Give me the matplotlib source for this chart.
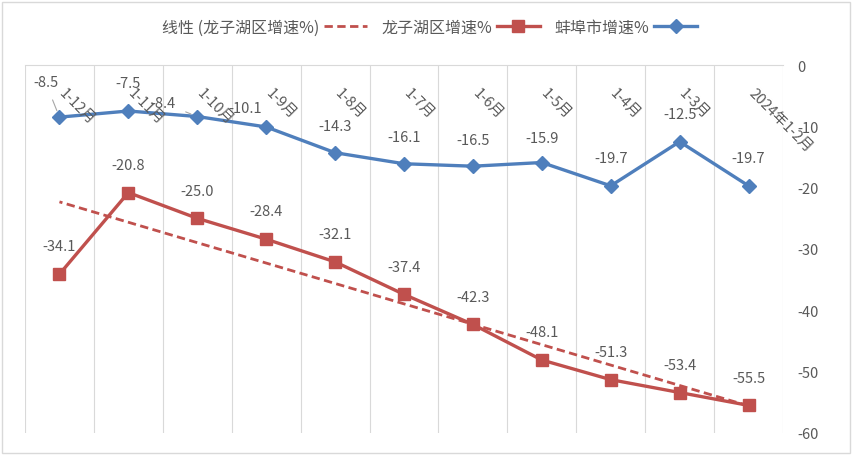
import numpy as np
import matplotlib
matplotlib.use("Agg")
import matplotlib.pyplot as plt
from matplotlib.lines import Line2D
from matplotlib.patches import Rectangle

plt.rcParams['font.family'] = ['Noto Sans CJK SC', 'DejaVu Sans']
plt.rcParams['axes.unicode_minus'] = False

months = ['2024年1-2月', '1-3月', '1-4月', '1-5月', '1-6月', '1-7月',
          '1-8月', '1-9月', '1-10月', '1-11月', '1-12月']
bengbu = [-19.7, -12.5, -19.7, -15.9, -16.5, -16.1, -14.3, -10.1, -8.4, -7.5, -8.5]
longzihu = [-55.5, -53.4, -51.3, -48.1, -42.3, -37.4, -32.1, -28.4, -25.0, -20.8, -34.1]

blue = '#4F7FBC'
red = '#C0504D'
grey = '#595959'
gridc = '#D9D9D9'

x = np.arange(len(months))

fig = plt.figure(figsize=(8.52, 4.56), dpi=100)
ax = fig.add_axes([25/852, 1-434/456, (783-25)/852, (434-66)/456])

# trend line (linear fit of 龙子湖区)
k, b = np.polyfit(x + 1, longzihu, 1)
trend = k*(x + 1) + b
ax.plot(x, trend, color=red, lw=2, ls=(0, (3, 1.6)), zorder=2)

ax.plot(x, longzihu, color=red, lw=2.4, marker='s', ms=9, zorder=3)
ax.plot(x, bengbu, color=blue, lw=2.4, marker='D', ms=7.5, zorder=3)

ax.set_xlim(len(months) - 0.5, -0.5)
ax.set_ylim(-60, 0)

# grid only vertical, at category boundaries
ax.set_xticks(np.arange(-0.5, len(months)), minor=True)
ax.set_xticks([])
ax.grid(which='minor', axis='x', color=gridc, lw=0.8)
ax.tick_params(which='minor', length=0)
for s in ['left', 'right', 'bottom']:
    ax.spines[s].set_visible(False)
ax.spines['top'].set_color(gridc)
ax.spines['top'].set_linewidth(0.8)

ax.yaxis.tick_right()
ax.set_yticks(np.arange(-60, 1, 10))
ax.tick_params(axis='y', length=0, pad=10, labelcolor=grey, labelsize=10.5)

# category labels near the zero line
for i, m in enumerate(months):
    ax.annotate(m, xy=(i, 0), xytext=(5, -15), textcoords='offset points',
                rotation=-45, rotation_mode='anchor', ha='left', va='top',
                color=grey, fontsize=10.5)

# data labels
blue_off = [(0, 20), (0, 20), (0, 20), (0, 18), (0, 19), (0, 19), (0, 19),
            (-15, 14), (-25, 10), (0, 20), (-10, 25)]
for i, v in enumerate(bengbu):
    dx, dy = blue_off[i]
    arrow = None
    if i in (8, 10):
        arrow = dict(arrowstyle='-', color='#A6A6A6', lw=0.8, shrinkA=6, shrinkB=5)
    ax.annotate(f'{v:.1f}', xy=(i, v), xytext=(dx, dy), textcoords='offset points',
                ha='center', va='center', color=grey, fontsize=10.5,
                arrowprops=arrow)

for i, v in enumerate(longzihu):
    ax.annotate(f'{v:.1f}', xy=(i, v), xytext=(0, 20), textcoords='offset points',
                ha='center', va='center', color=grey, fontsize=10.5)

handles = [
    Line2D([], [], color=red, lw=2, ls=(0, (3, 1.6))),
    Line2D([], [], color=red, lw=2.4, marker='s', ms=9),
    Line2D([], [], color=blue, lw=2.4, marker='D', ms=7.5),
]
labels = ['线性 (龙子湖区增速%)', '龙子湖区增速%', '蚌埠市增速%']
fig.legend(handles, labels, loc='center', bbox_to_anchor=(0.504, 1-28/456),
           ncol=3, frameon=False, markerfirst=False, fontsize=11.5,
           labelcolor=grey, handlelength=2.7, columnspacing=0.9, handletextpad=0.3)

fig.patches.append(Rectangle((0.002, 0.004), 0.996, 0.99, transform=fig.transFigure,
                             fill=False, ec=gridc, lw=1))

fig.savefig('out.png', dpi=100)
